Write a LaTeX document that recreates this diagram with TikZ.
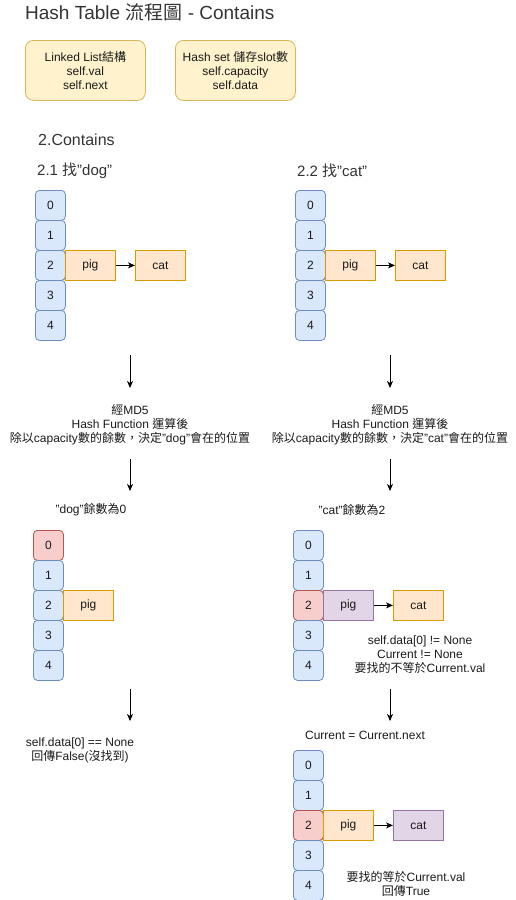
\documentclass[tikz,border=0pt]{standalone}
\usepackage{fontspec}
\setmainfont{Liberation Sans}
\newfontfamily\cjk{Noto Sans CJK TC}
\usetikzlibrary{arrows.meta}

\definecolor{slotfill}{HTML}{DAE8FC}
\definecolor{slotline}{HTML}{6C8EBF}
\definecolor{hitfill}{HTML}{F8CECC}
\definecolor{hitline}{HTML}{B85450}
\definecolor{itemfill}{HTML}{FFE6CC}
\definecolor{itemline}{HTML}{D79B00}
\definecolor{curfill}{HTML}{E1D5E7}
\definecolor{curline}{HTML}{9673A6}
\definecolor{notefill}{HTML}{FFF2CC}
\definecolor{noteline}{HTML}{D6B656}
\definecolor{ink}{HTML}{1A1A1A}
\definecolor{headink}{HTML}{333333}

\tikzset{
  txt/.style={inner sep=0pt, align=center, text=ink,
              font=\fontsize{12}{14}\selectfont},
  slot/.style={txt, draw=slotline, fill=slotfill, rounded corners=4pt, line width=0.8pt,
               minimum width=30pt, minimum height=30pt, anchor=north west},
  hitslot/.style={slot, draw=hitline, fill=hitfill},
  item/.style={txt, draw=itemline, fill=itemfill, line width=0.8pt,
               minimum width=50pt, minimum height=30pt, anchor=north west},
  curitem/.style={item, draw=curline, fill=curfill},
  note/.style={txt, draw=noteline, fill=notefill, rounded corners=8pt, line width=0.8pt,
               minimum width=120pt, minimum height=60pt, anchor=north west},
  flow/.style={-{Stealth[length=7pt,width=6pt,inset=2pt]}, line width=0.8pt, black},
}

\begin{document}
\begin{tikzpicture}[x=1pt,y=-1pt]
  \useasboundingbox (0,0) rectangle (516,900);

  % title and legend boxes
  \node[txt, anchor=west, text=headink, font=\fontsize{19}{21}\selectfont] (title) at (25,12)
    {Hash Table {\cjk 流程圖} - Contains};
  \node[note] (llnote) at (25,40)
    {Linked List{\cjk 結構}\\self.val\\self.next};
  \node[note] (hsnote) at (175,40)
    {Hash set {\cjk 儲存}slot{\cjk 數}\\self.capacity\\self.data};

  \node[txt, anchor=west, text=headink, font=\fontsize{16}{18}\selectfont] (sec) at (38,140) {2.Contains};
  \node[txt, anchor=west, text=headink, font=\fontsize{15}{17}\selectfont] (subA) at (37,171) {2.1 {\cjk 找}"dog"};
  \node[txt, anchor=west, text=headink, font=\fontsize{15}{17}\selectfont] (subB) at (297,171) {2.2 {\cjk 找}"cat"};

  % ---------- 2.1 search "dog" ----------
  \foreach \i in {0,...,4}
    \node[slot] (a\i) at (35,{190+30*\i}) {\i};
  \node[item] (aPig) at (65,250) {pig};
  \node[item] (aCat) at (135,250) {cat};
  \draw[flow] (aPig) -- (aCat);

  \coordinate (a1s) at (130,355); \coordinate (a1e) at (130,388);
  \draw[flow] (a1s) -- (a1e);
  \node[txt] (aHash) at (130,425)
    {{\cjk 經}MD5\\Hash Function {\cjk 運算後}\\{\cjk 除以}capacity{\cjk 數的餘數，決定}"dog"{\cjk 會在的位置}};
  \coordinate (a2s) at (130,459); \coordinate (a2e) at (130,491);
  \draw[flow] (a2s) -- (a2e);

  \node[txt] (aRem) at (91,510) {"dog"{\cjk 餘數為}0};
  \foreach \i/\s in {0/hitslot,1/slot,2/slot,3/slot,4/slot}
    \node[\s] (b\i) at (33,{530+30*\i}) {\i};
  \node[item] (bPig) at (63,590) {pig};

  \coordinate (a3s) at (130,689); \coordinate (a3e) at (130,721);
  \draw[flow] (a3s) -- (a3e);
  \node[txt] (aEnd) at (80,750) {self.data[0] == None\\{\cjk 回傳}False({\cjk 沒找到})};

  % ---------- 2.2 search "cat" ----------
  \foreach \i in {0,...,4}
    \node[slot] (c\i) at (295,{190+30*\i}) {\i};
  \node[item] (cPig) at (325,250) {pig};
  \node[item] (cCat) at (395,250) {cat};
  \draw[flow] (cPig) -- (cCat);

  \coordinate (c1s) at (390,355); \coordinate (c1e) at (390,388);
  \draw[flow] (c1s) -- (c1e);
  \node[txt] (cHash) at (390,425)
    {{\cjk 經}MD5\\Hash Function {\cjk 運算後}\\{\cjk 除以}capacity{\cjk 數的餘數，決定}"cat"{\cjk 會在的位置}};
  \coordinate (c2s) at (390,459); \coordinate (c2e) at (390,491);
  \draw[flow] (c2s) -- (c2e);

  \node[txt] (cRem) at (352,510) {"cat"{\cjk 餘數為}2};
  \foreach \i/\s in {0/slot,1/slot,2/hitslot,3/slot,4/slot}
    \node[\s] (d\i) at (293,{530+30*\i}) {\i};
  \node[curitem] (dPig) at (323,590) {pig};
  \node[item] (dCat) at (393,590) {cat};
  \draw[flow] (dPig) -- (dCat);
  \node[txt] (dNote) at (420,655)
    {self.data[0] != None\\Current != None\\{\cjk 要找的不等於}Current.val};

  \coordinate (c3s) at (390,689); \coordinate (c3e) at (390,721);
  \draw[flow] (c3s) -- (c3e);

  \node[txt] (step) at (365,735) {Current = Current.next};
  \foreach \i/\s in {0/slot,1/slot,2/hitslot,3/slot,4/slot}
    \node[\s] (e\i) at (293,{750+30*\i}) {\i};
  \node[item] (ePig) at (323,810) {pig};
  \node[curitem] (eCat) at (393,810) {cat};
  \draw[flow] (ePig) -- (eCat);
  \node[txt] (eNote) at (406,884) {{\cjk 要找的等於}Current.val\\{\cjk 回傳}True};
\end{tikzpicture}
\end{document}
